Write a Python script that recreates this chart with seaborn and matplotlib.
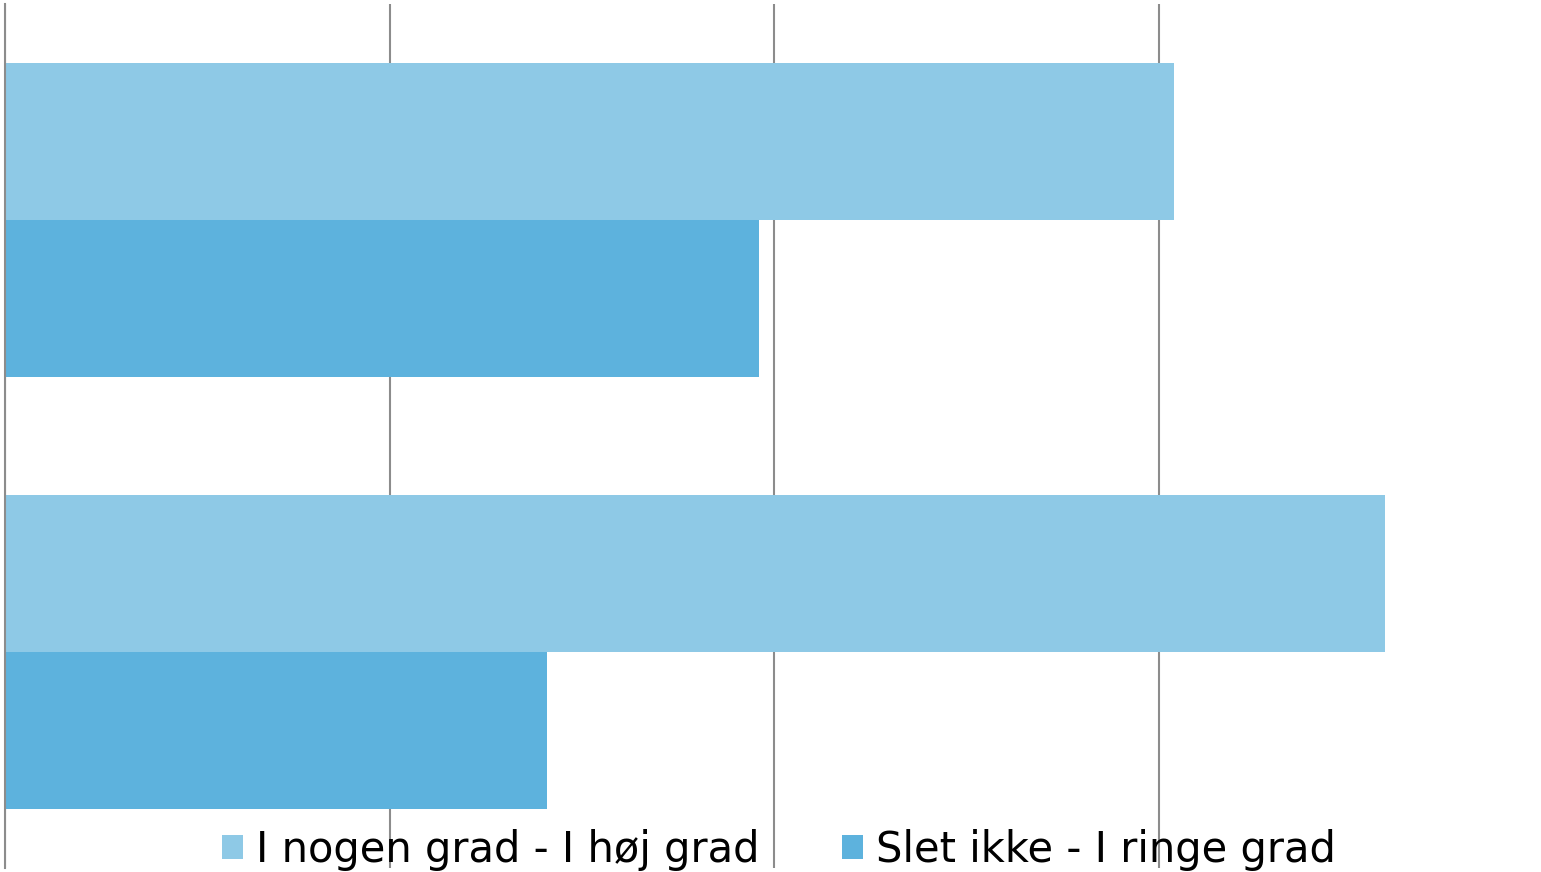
import pandas as pd
import matplotlib
matplotlib.use('Agg')
import matplotlib.pyplot as plt
import seaborn as sns

# data (percent, no axis labels shown)
categories = ['Spørgsmål 1', 'Spørgsmål 2']
series_names = ['I nogen grad - I høj grad', 'Slet ikke - I ringe grad']
hoj_grad = [60.8, 71.8]
ringe_grad = [39.2, 28.2]
x_ticks = [0, 20, 40, 60]

colors = ['#8EC9E6', '#5DB2DD']
grid_col = '#8C8C8C'

sns.set_style('white')
plt.rcParams['font.family'] = ['DejaVu Sans']
plt.rcParams['text.color'] = 'black'

df = pd.DataFrame({
    'kategori': categories * 2,
    'serie': [series_names[0]] * len(categories) + [series_names[1]] * len(categories),
    'andel': hoj_grad + ringe_grad,
})

W, H = 1541, 872
fig = plt.figure(figsize=(W / 100, H / 100), dpi=100)
ax = fig.add_axes([5 / W, 4 / H, 1538 / W, 864 / H])

sns.barplot(data=df, x='andel', y='kategori', hue='serie', orient='h',
            palette=colors, width=0.725, saturation=1, linewidth=0,
            ax=ax, legend=True)

ax.set_xlim(0, 80)
ax.set_ylim(1.5, -0.5)
ax.set_xticks(x_ticks)
ax.set_axisbelow(True)
ax.grid(axis='x', color=grid_col, linewidth=1.5)
ax.grid(axis='y', visible=False)
ax.tick_params(left=False, bottom=False, labelleft=False, labelbottom=False)
ax.set_xlabel('')
ax.set_ylabel('')
for side in ['top', 'right', 'bottom']:
    ax.spines[side].set_visible(False)
ax.spines['left'].set_color(grid_col)
ax.spines['left'].set_linewidth(1.5)
ax.spines['left'].set_zorder(5)

handles, labels = ax.get_legend_handles_labels()
ax.get_legend().remove()
fig.legend(handles, labels, loc='center', bbox_to_anchor=(779 / W, 1 - 850 / H),
           ncol=2, frameon=False, fontsize=30, handlelength=0.5, handleheight=0.5,
           handletextpad=0.3, columnspacing=2.0, borderaxespad=0,
           labelcolor='black')

fig.savefig('out.png', dpi=100, facecolor='white')
